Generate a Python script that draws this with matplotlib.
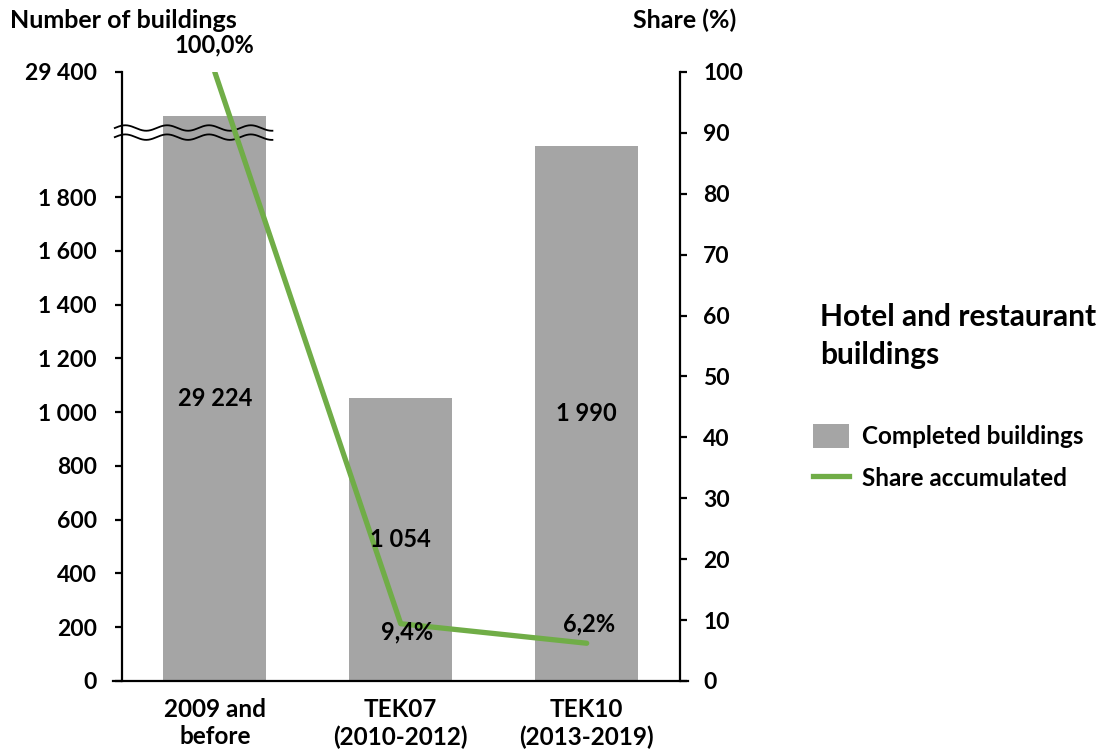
import numpy as np
import matplotlib
matplotlib.use("Agg")
import matplotlib.pyplot as plt
from matplotlib.lines import Line2D
from matplotlib.patches import Patch

plt.rcParams['font.family'] = ['Lato', 'DejaVu Sans']
plt.rcParams['font.weight'] = 'bold'

categories = ["2009 and\nbefore", "TEK07\n(2010-2012)", "TEK10\n(2013-2019)"]
buildings = [29224, 1054, 1990]
share = [100.0, 9.4, 6.2]
left_ticks = [0, 200, 400, 600, 800, 1000, 1200, 1400, 1600, 1800, 29400]
right_ticks = [0, 10, 20, 30, 40, 50, 60, 70, 80, 90, 100]

BAR = "#A5A5A5"
GREEN = "#70AD47"

# broken-axis scale
_kx = [0, 2000, 29200, 29400]
_ky = [0, 2000, 2080, 2265]
def fwd(v):
    return np.interp(v, _kx, _ky)
def inv(v):
    return np.interp(v, _ky, _kx)

fig = plt.figure(figsize=(11.07, 7.49), dpi=100)
ax = fig.add_axes([0.110, 0.0908, 0.504, 0.8131])
ax.set_yscale('function', functions=(fwd, inv))
x = np.arange(len(categories))
ax.bar(x, buildings, width=0.555, color=BAR, zorder=2)
ax.set_xlim(-0.5, 2.5)
ax.set_ylim(0, 29400)
ax.set_yticks(left_ticks)
ax.set_yticklabels([f"{v:,}".replace(",", " ") for v in left_ticks])
ax.set_xticks(x)
ax.set_xticklabels(categories, linespacing=1.25)
ax.yaxis.set_minor_locator(matplotlib.ticker.NullLocator())

for s in ['top', 'right']:
    ax.spines[s].set_visible(False)
for s in ['left', 'bottom']:
    ax.spines[s].set_linewidth(1.6)
ax.spines['bottom'].set_bounds(-0.545, 2.545)
ax.tick_params(axis='y', direction='out', length=5, width=1.6, pad=13, labelsize=16.5)
ax.tick_params(axis='x', length=0, pad=12, labelsize=17.5)

ax2 = ax.twinx()
ax2.set_ylim(0, 100)
ax2.set_yticks(right_ticks)
ax2.plot(x, share, color=GREEN, lw=3.8, solid_capstyle='round', zorder=3)
for s in ['top', 'left', 'bottom']:
    ax2.spines[s].set_visible(False)
ax2.spines['right'].set_linewidth(1.6)
ax2.tick_params(axis='y', direction='out', length=5, width=1.6, pad=12, labelsize=16.5)

# break marks
xs = np.linspace(-0.0125, 0.27, 300)
for yb in (0.893, 0.908):
    ys = yb + 0.0045 * np.sin(2 * np.pi * (xs + 0.0125) / 0.075)
    ax.plot(xs, ys, color='black', lw=1.3, transform=ax.transAxes, clip_on=False, zorder=5)

# bar labels
for xi, v in zip(x, buildings):
    ymid = inv(fwd(v) / 2)
    ax2.text(xi, ymid, f"{v:,}".replace(",", " "), transform=ax.transData,
             ha='center', va='center', fontsize=17, fontweight='bold', zorder=6)

# share labels
offsets = [(0, 27), (6, -8), (2, 19)]
for xi, v, (dx, dy) in zip(x, share, offsets):
    ax2.annotate(f"{v:.1f}".replace(".", ",") + "%", (xi, v), xytext=(dx, dy),
                 textcoords='offset pixels', ha='center', va='center',
                 fontsize=17, fontweight='bold', zorder=6)

fig.text(0.009, 0.973, "Number of buildings", fontsize=18, fontweight='bold', ha='left', va='center')
fig.text(0.665, 0.973, "Share (%)", fontsize=18, fontweight='bold', ha='right', va='center')

fig.text(0.741, 0.551, "Hotel and restaurant\nbuildings", fontsize=21.5, fontweight='bold',
         ha='left', va='center', linespacing=1.42)

handles = [Patch(facecolor=BAR, edgecolor='none'),
           Line2D([0], [0], color=GREEN, lw=3.8)]
fig.legend(handles, ["Completed buildings", "Share accumulated"], loc='upper left',
           bbox_to_anchor=(0.7344, 0.434), frameon=False, fontsize=17.5,
           borderpad=0, borderaxespad=0,
           handlelength=1.5, handleheight=1.15, labelspacing=0.72, handletextpad=0.5)

fig.savefig("out.png", dpi=100)
